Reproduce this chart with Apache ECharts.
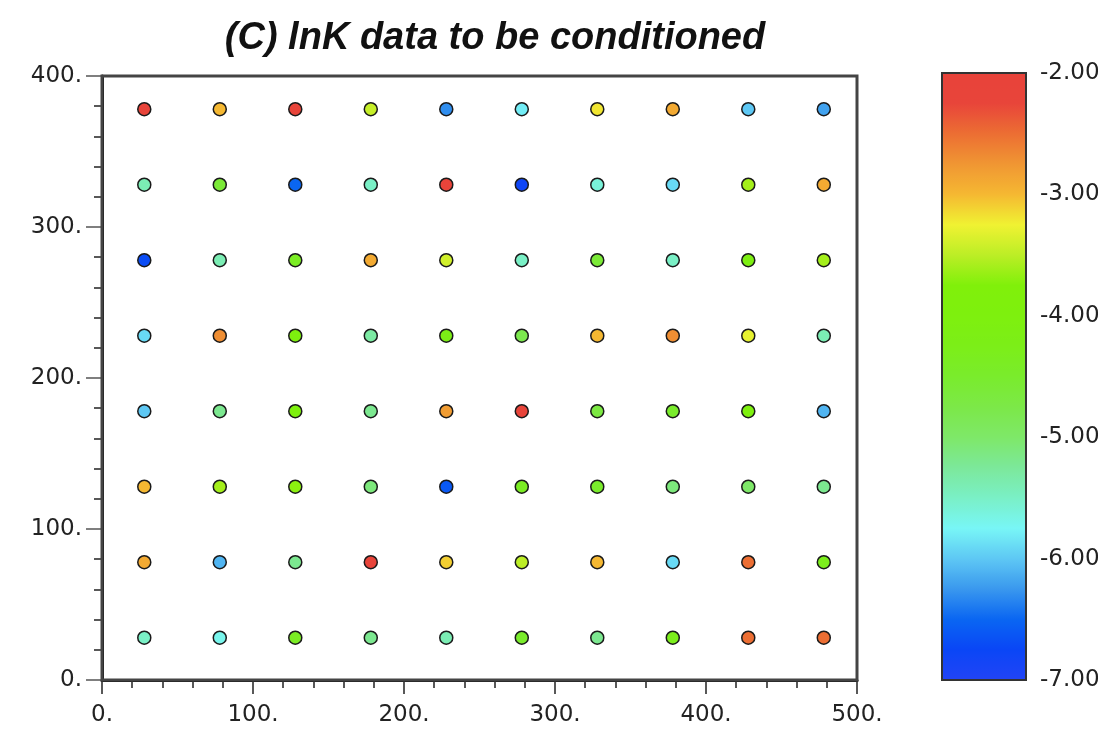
<!DOCTYPE html>
<html>
<head>
<meta charset="utf-8">
<script src="https://cdn.jsdelivr.net/npm/echarts@6/dist/echarts.min.js"></script>
<style>
html,body{margin:0;padding:0;background:#fff;}
#chart{width:1098px;height:734px;}
</style>
</head>
<body>
<div id="chart"></div>
<script>
// Grid coordinates of the sample points
const xPositions = [28, 78, 128, 178, 228, 278, 328, 378, 428, 478];
const yPositions = [378, 328, 278, 228, 178, 128, 78, 28];

// lnK values per row (top row first)
const row378 = [-2.2, -3.0, -2.2, -3.45, -6.3, -5.8, -3.2, -2.9, -6.0, -6.2];
const row328 = [-5.4, -4.6, -6.5, -5.5, -2.2, -6.8, -5.6, -5.9, -3.6, -2.9];
const row278 = [-6.7, -5.4, -4.4, -2.9, -3.4, -5.5, -4.6, -5.5, -4.1, -3.6];
const row228 = [-5.9, -2.7, -4.0, -5.3, -4.2, -4.8, -3.0, -2.7, -3.3, -5.4];
const row178 = [-6.0, -5.2, -4.0, -5.2, -2.8, -2.2, -4.7, -4.5, -4.0, -6.1];
const row128 = [-3.0, -3.6, -3.7, -5.1, -6.6, -4.4, -4.5, -5.1, -5.0, -5.2];
const row78  = [-2.9, -6.1, -5.2, -2.2, -3.1, -3.5, -3.0, -5.9, -2.5, -4.3];
const row28  = [-5.5, -5.7, -4.4, -5.2, -5.4, -4.5, -5.2, -4.3, -2.5, -2.5];
const rows = [row378, row328, row278, row228, row178, row128, row78, row28];

// Colour scale (from -7.00 up to -2.00 in 0.25 steps)
const colorStops = [
  '#2244f6', '#0a46f6', '#0a66f2', '#3a98ee', '#5ec8f4',
  '#78f6f6', '#7af0c6', '#7ce89a', '#7ee868', '#7ce848',
  '#7aec2c', '#7cee18', '#7ef00e', '#80f00a', '#bcee26',
  '#f0f232', '#f5b832', '#f09633', '#ec6e33', '#e8453a', '#e8423a'
];
const xTicks = [0, 100, 200, 300, 400, 500];
const yTicks = [0, 100, 200, 300, 400];
const cbTicks = [-7, -6, -5, -4, -3, -2];

const points = [];
rows.forEach((r, i) => r.forEach((v, j) => points.push([xPositions[j], yPositions[i], v])));

const labelFont = {fontFamily: 'DejaVu Sans', fontSize: 23, color: '#222'};

const chart = echarts.init(document.getElementById('chart'), null, {renderer: 'canvas'});
chart.setOption({
  animation: false,
  backgroundColor: '#fff',
  title: {
    text: '(C) lnK data to be conditioned',
    left: 495, top: 20, textAlign: 'center', padding: 0,
    textStyle: {fontFamily: 'Liberation Sans', fontSize: 38, fontWeight: 'bold', fontStyle: 'italic', color: '#111'}
  },
  grid: [
    {left: 102, top: 76, width: 755, height: 604, show: true, borderColor: '#444', borderWidth: 3, backgroundColor: 'transparent', z: 3, containLabel: false, outerBoundsMode: 'none'},
    {left: 942, top: 73, width: 84, height: 607, show: true, borderColor: '#333', borderWidth: 2, backgroundColor: 'transparent', z: 10, containLabel: false, outerBoundsMode: 'none'}
  ],
  xAxis: [
    {
      gridIndex: 0, type: 'value', min: xTicks[0], max: xTicks[xTicks.length - 1], interval: 100,
      axisLine: {show: true, onZero: false, lineStyle: {color: '#111', width: 3}},
      axisTick: {show: true, inside: false, length: 14, lineStyle: {color: '#222', width: 1.5}},
      minorTick: {show: true, splitNumber: 5, length: 8, lineStyle: {color: '#222', width: 1.5}},
      splitLine: {show: false},
      axisLabel: Object.assign({margin: 24, formatter: v => v + '.'}, labelFont)
    },
    {gridIndex: 1, type: 'value', min: 0, max: 1, show: false}
  ],
  yAxis: [
    {
      gridIndex: 0, type: 'value', min: yTicks[0], max: yTicks[yTicks.length - 1], interval: 100,
      axisLine: {show: true, onZero: false, lineStyle: {color: '#111', width: 3}},
      axisTick: {show: true, inside: false, length: 16, lineStyle: {color: '#555', width: 1.5}},
      minorTick: {show: true, splitNumber: 5, length: 8, lineStyle: {color: '#222', width: 1.5}},
      splitLine: {show: false},
      axisLabel: Object.assign({margin: 20, formatter: v => v + '.', verticalAlign: 'middle', padding: [0, 0, 14, 0]}, labelFont)
    },
    {
      gridIndex: 1, type: 'value', position: 'right', min: cbTicks[0], max: cbTicks[cbTicks.length - 1], interval: 1,
      axisLine: {show: false},
      axisTick: {show: true, inside: false, length: 8, lineStyle: {color: '#333', width: 1.5}},
      splitLine: {show: false},
      axisLabel: Object.assign({margin: 14, formatter: v => v.toFixed(2), verticalAlign: 'middle', padding: [0, 0, 14, 0]}, labelFont)
    }
  ],
  visualMap: {
    type: 'continuous', min: cbTicks[0], max: cbTicks[cbTicks.length - 1],
    dimension: 2, seriesIndex: 0, calculable: false, realtime: false,
    left: 942, top: 73, itemWidth: 84, itemHeight: 607, padding: 0,
    inRange: {color: colorStops},
    hoverLink: false
  },
  series: [{
    type: 'scatter', xAxisIndex: 0, yAxisIndex: 0,
    data: points, symbolSize: 13,
    itemStyle: {borderColor: '#1a1a1a', borderWidth: 1.5, opacity: 1}
  }]
});
</script>
</body>
</html>
